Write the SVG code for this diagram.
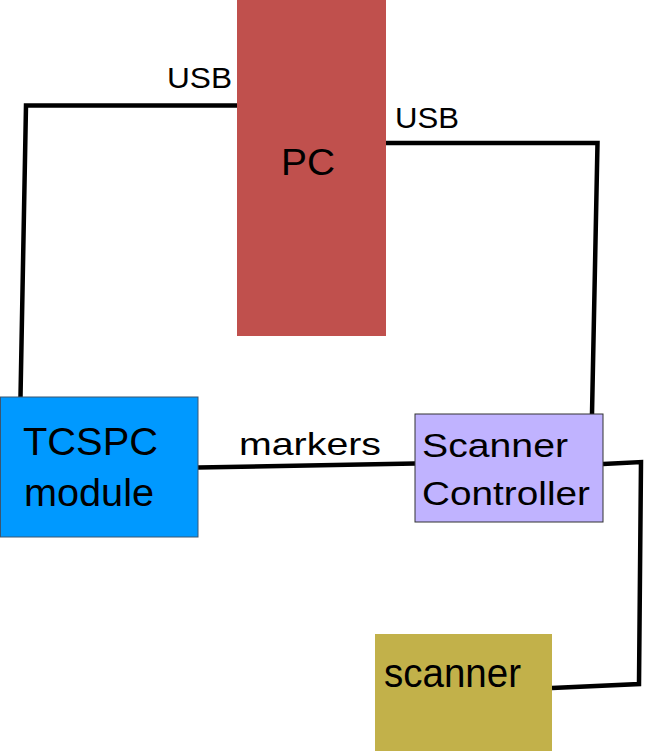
<svg xmlns="http://www.w3.org/2000/svg" width="645" height="751" viewBox="0 0 645 751">
<style>
.wire{fill:none;stroke:#000;stroke-width:4.5;stroke-linejoin:miter}
.t{font-family:"Liberation Sans",Arial,sans-serif;fill:#000}
</style>
<rect width="645" height="751" fill="#fff"/>
<g id="connectors">
<polyline class="wire" points="237,105.5 26,105.5 20.5,397"/>
<polyline class="wire" points="386,143 597.5,143 592,414"/>
<line class="wire" x1="198" y1="467.5" x2="415" y2="463.5"/>
<polyline class="wire" points="603,464 641,462 639,684 552,688"/>
<text class="t" x="167" y="88" font-size="30" textLength="65" lengthAdjust="spacingAndGlyphs">USB</text>
<text class="t" x="395" y="128" font-size="30" textLength="64" lengthAdjust="spacingAndGlyphs">USB</text>
<text class="t" x="239" y="454.5" font-size="32" textLength="142" lengthAdjust="spacingAndGlyphs">markers</text>
</g>
<g id="pc">
<rect x="237" y="0" width="149" height="336" fill="#C0504D"/>
<text class="t" x="281" y="175" font-size="37" textLength="54" lengthAdjust="spacingAndGlyphs">PC</text>
</g>
<g id="tcspc">
<rect x="0.5" y="397" width="197.5" height="140" fill="#0099FF" stroke="#3A5670" stroke-width="1"/>
<text class="t" x="23" y="455" font-size="38" textLength="135" lengthAdjust="spacingAndGlyphs">TCSPC</text>
<text class="t" x="24" y="506" font-size="38" textLength="130" lengthAdjust="spacingAndGlyphs">module</text>
</g>
<g id="scanner-controller">
<rect x="415" y="414" width="188" height="108" fill="#C0B3FF" stroke="#333" stroke-width="1"/>
<text class="t" x="422" y="457" font-size="33" textLength="146" lengthAdjust="spacingAndGlyphs">Scanner</text>
<text class="t" x="422" y="505" font-size="33" textLength="168" lengthAdjust="spacingAndGlyphs">Controller</text>
</g>
<g id="scanner">
<rect x="375" y="634" width="177" height="117" fill="#C2B14A"/>
<text class="t" x="384" y="687" font-size="40" textLength="137" lengthAdjust="spacingAndGlyphs">scanner</text>
</g>
</svg>
